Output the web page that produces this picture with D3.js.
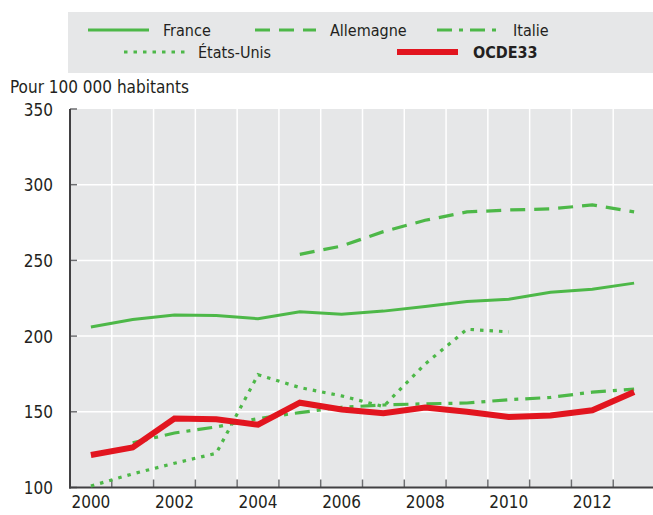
<!DOCTYPE html>
<html>
<head>
<meta charset="utf-8">
<script src="https://cdn.jsdelivr.net/npm/d3@7"></script>
<style>
  body { margin: 0; background: #fff; }
  svg text { font-family: "Liberation Sans Narrow", "Arial Narrow", "DejaVu Sans Condensed", sans-serif; fill: #231f20; }
</style>
</head>
<body>
<div id="chart"></div>
<script>
// data
var years = [2000, 2001, 2002, 2003, 2004, 2005, 2006, 2007, 2008, 2009, 2010, 2011, 2012, 2013]
var france    = [206, 211, 214, 213.6, 211.5, 216, 214.5, 216.5, 219.5, 222.8, 224.3, 229, 231, 235]
var allemagne = [null, null, null, null, null, 254, 259.5, 269, 276.5, 282, 283.3, 284, 286.7, 282]
var italie    = [null, 129.5, 136, 140, 145.5, 149.5, 153, 154.5, 155.3, 155.8, 158, 159.5, 163, 165]
var etatsUnis = [101, 109, 116, 122.6, 174.5, 166, 160.5, 153.5, 181.6, 204.5, 202.8, null, null, null]
var ocde33    = [121.5, 126.5, 145.5, 145, 141.5, 156, 151.5, 149, 152.8, 150, 146.5, 147.5, 151, 163]
var yTicks = [100, 150, 200, 250, 300, 350]

var W = 653, H = 515
var green = '#4db848', red = '#e2151f', panel = '#e6e7e8'

var svg = d3.select('#chart').append('svg')
  .attr('width', W)
  .attr('height', H)

var x = d3.scaleBand().domain(years).range([70, 655]).padding(0)
var y = d3.scaleLinear().domain([100, 350]).range([487.5, 109])

// plot background
svg.append('rect')
  .attr('x', 70).attr('y', y(350))
  .attr('width', W - 70).attr('height', y(100) - y(350))
  .style('fill', panel)

// white grid
svg.selectAll('.vgrid').data(years.slice(1))
  .enter().append('line')
  .attr('class', 'vgrid')
  .attr('x1', function(d) { return x(d) }).attr('x2', function(d) { return x(d) })
  .attr('y1', y(350)).attr('y2', y(100))
  .style('stroke', '#fff').style('stroke-width', 1.5)

svg.selectAll('.hgrid').data(yTicks.slice(1, -1))
  .enter().append('line')
  .attr('class', 'hgrid')
  .attr('x1', 70).attr('x2', W)
  .attr('y1', function(d) { return y(d) }).attr('y2', function(d) { return y(d) })
  .style('stroke', '#fff').style('stroke-width', 1.5)

// axes
var yAxis = d3.axisLeft(y).tickValues(yTicks).tickSize(0).tickPadding(17)
var gy = svg.append('g').attr('transform', 'translate(70,0)').call(yAxis)
gy.select('.domain').remove()
gy.selectAll('text').style('font-size', '17px').attr('dy', '0.36em')

svg.selectAll('.ytick').data(yTicks)
  .enter().append('line')
  .attr('x1', 70).attr('x2', 77)
  .attr('y1', function(d) { return y(d) }).attr('y2', function(d) { return y(d) })
  .style('stroke', '#6d6e71').style('stroke-width', 1.5)

svg.selectAll('.xtick').data(years.slice(1))
  .enter().append('line')
  .attr('x1', function(d) { return x(d) }).attr('x2', function(d) { return x(d) })
  .attr('y1', y(100) - 8).attr('y2', y(100))
  .style('stroke', '#6d6e71').style('stroke-width', 1.5)

svg.selectAll('.xlabel').data(years.filter(function(d) { return d % 2 == 0 }))
  .enter().append('text')
  .attr('x', function(d) { return x(d) + x.bandwidth() / 2 })
  .attr('y', 508)
  .attr('text-anchor', 'middle')
  .style('font-size', '17px')
  .text(function(d) { return d })

svg.append('line')
  .attr('x1', 70).attr('x2', 70).attr('y1', y(350)).attr('y2', y(100) + 1)
  .style('stroke', '#414042').style('stroke-width', 2)
svg.append('line')
  .attr('x1', 69).attr('x2', W).attr('y1', y(100)).attr('y2', y(100))
  .style('stroke', '#414042').style('stroke-width', 2)

svg.append('text')
  .attr('x', 10).attr('y', 93)
  .style('font-size', '17px')
  .text('Pour 100 000 habitants')

// series
var series = [
  { name: 'France', values: france, color: green, width: 3, dash: null },
  { name: 'Allemagne', values: allemagne, color: green, width: 3.2, dash: '15,9' },
  { name: 'Italie', values: italie, color: green, width: 3.2, dash: '15,7,4,7' },
  { name: 'États-Unis', values: etatsUnis, color: green, width: 3.2, dash: '3.5,6' },
  { name: 'OCDE33', values: ocde33, color: red, width: 6, dash: null }
]

var line = d3.line()
  .defined(function(d) { return d != null })
  .x(function(d, i) { return x(years[i]) + x.bandwidth() / 2 })
  .y(function(d) { return y(d) })

svg.selectAll('.series').data(series)
  .enter().append('path')
  .attr('class', 'series')
  .attr('d', function(s) { return line(s.values) })
  .style('fill', 'none')
  .style('stroke', function(s) { return s.color })
  .style('stroke-width', function(s) { return s.width })
  .style('stroke-dasharray', function(s) { return s.dash })

// legend
svg.append('rect')
  .attr('x', 68).attr('y', 12).attr('width', W - 68).attr('height', 61)
  .style('fill', panel)

var legendPos = [
  { lx: 88, ly: 30, tx: 163 },
  { lx: 255, ly: 30, tx: 330 },
  { lx: 437, ly: 30, tx: 513 },
  { lx: 124, ly: 52, tx: 198 },
  { lx: 397, ly: 52, tx: 473 }
]

var leg = svg.selectAll('.legend').data(series)
  .enter().append('g')
  .attr('class', 'legend')

leg.append('line')
  .attr('x1', function(s, i) { return legendPos[i].lx })
  .attr('x2', function(s, i) { return legendPos[i].lx + 61 })
  .attr('y1', function(s, i) { return legendPos[i].ly })
  .attr('y2', function(s, i) { return legendPos[i].ly })
  .style('stroke', function(s) { return s.color })
  .style('stroke-width', function(s) { return s.width })
  .style('stroke-dasharray', function(s) { return s.dash })

leg.append('text')
  .attr('x', function(s, i) { return legendPos[i].tx })
  .attr('y', function(s, i) { return legendPos[i].ly + 6 })
  .style('font-size', '16px')
  .style('font-weight', function(s) { return s.name == 'OCDE33' ? 'bold' : 'normal' })
  .text(function(s) { return s.name })
</script>
</body>
</html>
